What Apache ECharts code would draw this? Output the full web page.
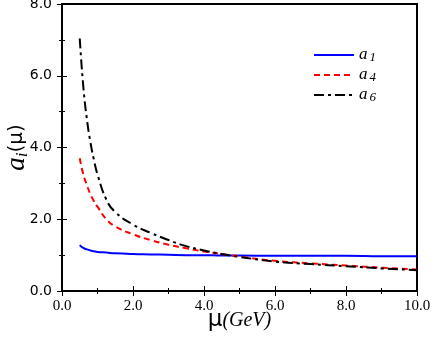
<!DOCTYPE html>
<html><head><meta charset="utf-8">
<script src="https://cdn.jsdelivr.net/npm/echarts@6/dist/echarts.min.js"></script>
<style>html,body{margin:0;padding:0;background:#fff}#c{width:436px;height:340px}</style>
</head><body><div id="c"></div>
<script>
const mu = [0.5,0.6,0.7,0.8,0.9,1.0,1.25,1.5,2.0,2.5,3.0,3.5,4.0,4.5,5.0,6.0,7.0,8.0,9.0,10.0];
const a1 = [1.28,1.20,1.16,1.13,1.11,1.09,1.07,1.05,1.03,1.02,1.01,1.00,1.00,0.99,0.99,0.98,0.98,0.98,0.97,0.97];
const a4 = [3.70,3.25,2.95,2.70,2.50,2.35,2.00,1.80,1.58,1.42,1.29,1.19,1.10,1.03,0.96,0.84,0.77,0.71,0.65,0.60];
const a6 = [7.04,5.70,4.80,4.15,3.65,3.25,2.55,2.20,1.85,1.62,1.42,1.25,1.13,1.03,0.95,0.82,0.75,0.69,0.63,0.58];
const xTicks = ['0.0','2.0','4.0','6.0','8.0','10.0'];
const yTicks = ['0.0','2.0','4.0','6.0','8.0'];
const names = ['a1','a4','a6'];

const pairs = v => mu.map((m,i)=>[m,v[i]]);
const chart = echarts.init(document.getElementById('c'));
const serif = 'Liberation Serif';
const axisCommon = {
  min:0, interval:2, minorTick:{show:true, splitNumber:2, length:3, lineStyle:{color:'#000'}},
  axisTick:{inside:true, length:5, lineStyle:{color:'#000'}},
  axisLine:{lineStyle:{color:'#000', width:2}}, splitLine:{show:false}
};
chart.setOption({
  animation:false,
  grid:{left:62, right:19, top:4, bottom:49, show:true, borderColor:'#000', borderWidth:2, containLabel:false, outerBoundsMode:'none'},
  legend:{
    data:names, orient:'vertical', left:308, top:41, itemWidth:40, itemHeight:10, itemGap:2,
    itemStyle:{opacity:0},
    formatter: n => '{a|a}{s|' + n.slice(1) + '}',
    textStyle:{lineHeight:16, rich:{
      a:{fontFamily:serif, fontStyle:'italic', fontSize:17, color:'#000', lineHeight:16},
      s:{fontFamily:serif, fontStyle:'italic', fontSize:13, color:'#000', lineHeight:16, padding:[5,0,0,2]}
    }}
  },
  xAxis:[Object.assign({}, axisCommon, {
    type:'value', max:10, position:'bottom',
    axisLabel:{fontFamily:serif, fontSize:15, color:'#000', margin:8,
      formatter: v => xTicks[v/2] !== undefined ? xTicks[v/2] : ''},
    name:'{m|μ}{g|(GeV)}', nameLocation:'middle', nameGap:18, nameMoveOverlap:false,
    nameTextStyle:{rich:{
      m:{fontFamily:'DejaVu Sans', fontSize:23, color:'#000'},
      g:{fontFamily:serif, fontStyle:'italic', fontSize:20, color:'#000'}
    }}
  }), Object.assign({}, axisCommon, {
    type:'value', max:10, position:'top', axisLabel:{show:false}
  })],
  yAxis:[Object.assign({}, axisCommon, {
    type:'value', max:8, position:'left',
    axisLabel:{fontFamily:'DejaVu Sans', fontSize:14, color:'#000', margin:10,
      formatter: v => yTicks[v/2] !== undefined ? yTicks[v/2] : ''},
    name:'{a|a}{i|i}{p|(μ)}', nameLocation:'middle', nameGap:31, nameMoveOverlap:false,
    nameTextStyle:{rich:{
      a:{fontFamily:serif, fontStyle:'italic', fontSize:27, color:'#000'},
      i:{fontFamily:serif, fontStyle:'italic', fontSize:17, color:'#000', padding:[12,0,0,0]},
      p:{fontFamily:'DejaVu Sans', fontSize:20, color:'#000'}
    }}
  }), Object.assign({}, axisCommon, {
    type:'value', max:8, position:'right', axisLabel:{show:false}
  })],
  series:[
    {name:'a1', type:'line', data:pairs(a1), smooth:true, symbol:'none', lineStyle:{color:'#0000ff', width:2}, itemStyle:{color:'#0000ff'}},
    {name:'a4', type:'line', data:pairs(a4), smooth:true, symbol:'none', lineStyle:{color:'#ff0000', width:2, type:[6,4]}, itemStyle:{color:'#ff0000'}},
    {name:'a6', type:'line', data:pairs(a6), smooth:true, symbol:'none', lineStyle:{color:'#000', width:2, type:[10,4,3,4]}, itemStyle:{color:'#000'}}
  ]
});
</script></body></html>
